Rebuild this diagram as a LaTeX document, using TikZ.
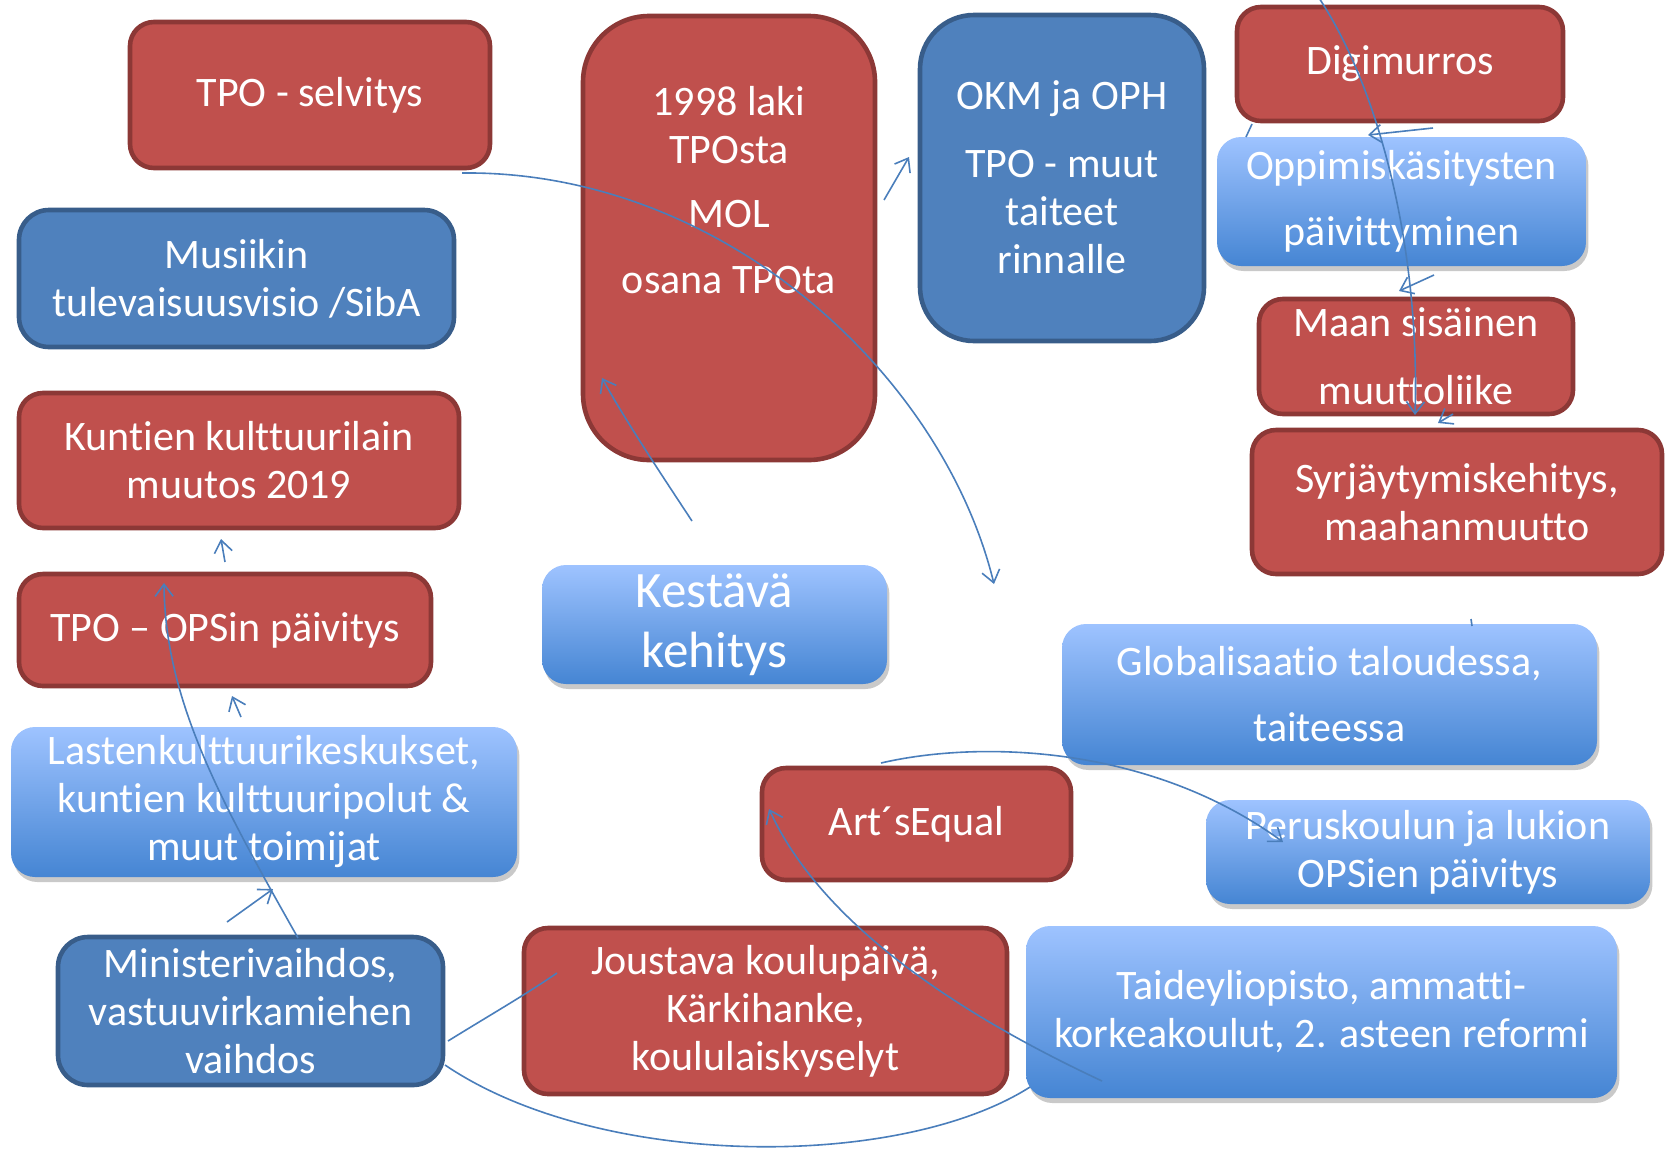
\documentclass[tikz,border=0pt]{standalone}
\usepackage{fontspec}
\setmainfont[Ligatures={NoCommon}]{Carlito}
\usetikzlibrary{arrows.meta,shadows}
\definecolor{redfill}{HTML}{C0504D}
\definecolor{redline}{HTML}{8C3836}
\definecolor{bluefill}{HTML}{4F81BD}
\definecolor{blueline}{HTML}{385D8A}
\definecolor{ltop}{HTML}{9EC3FF}
\definecolor{lbot}{HTML}{4585D3}
\definecolor{conncol}{HTML}{4A7EBB}
\newcommand\mkbox[7]{%
  \pgfmathsetmacro\bw{(#5-#3)*0.5}%
  \pgfmathsetmacro\bh{(#6-#4)*0.5}%
  \node[#1, minimum width=\bw pt, minimum height=\bh pt] (#2) at ({(#3+#5)/2},{(#4+#6)/2}) {#7};}
\tikzset{
  basebox/.style={rectangle, rounded corners=12pt, inner sep=0pt, align=center, text=white, font=\fontsize{21}{24}\selectfont},
  redbox/.style={basebox, fill=redfill, draw=redline, line width=2.3pt},
  dbbox/.style={basebox, fill=bluefill, draw=blueline, line width=2.3pt},
  lbbox/.style={basebox, top color=ltop, bottom color=lbot, drop shadow={shadow xshift=1.2pt, shadow yshift=-2.5pt, opacity=0.3, fill=black!70}},
  txt/.style={align=center, text=white, inner sep=0pt, font=\fontsize{21}{24}\selectfont},
  conn/.style={draw=conncol, line width=0.8pt},
  arr/.style={conn, -{Straight Barb[length=6pt,width=9pt]}}
}
\begin{document}
\begin{tikzpicture}[x=0.5pt,y=-0.5pt]
\useasboundingbox (0,0) rectangle (1669,1152);
% red boxes
\mkbox{redbox}{sel}{130}{22}{490}{168}{TPO - selvitys}
\mkbox{redbox}{kunt}{19}{393}{459}{528}{Kuntien kulttuurilain\\muutos 2019}
\mkbox{redbox}{opsin}{19}{574}{431}{686}{TPO – OPSin päivitys}
\mkbox{redbox,rounded corners=33pt}{laki}{583}{16}{875}{460}{}
\mkbox{redbox}{digi}{1237}{7}{1563}{121}{Digimurros}
\mkbox{redbox}{maan}{1259}{299}{1573}{414}{Maan sisäinen\\[10pt]muuttoliike}
\mkbox{redbox}{syrj}{1252}{430}{1662}{574}{Syrjäytymiskehitys,\\maahanmuutto}
\mkbox{redbox}{arts}{762}{768}{1071}{880}{Art´sEqual}
\mkbox{redbox}{joust}{524}{928}{1007}{1094}{Joustava koulupäivä,\\Kärkihanke,\\koululaiskyselyt}
% dark blue boxes
\mkbox{dbbox,rounded corners=15pt}{musi}{19}{210}{454}{347}{Musiikin\\tulevaisuusvisio /SibA}
\mkbox{dbbox,rounded corners=27pt}{okm}{920}{15}{1204}{341}{}
\mkbox{dbbox,rounded corners=15pt}{mini}{58}{937}{443}{1085}{Ministerivaihdos,\\vastuuvirkamiehen\\vaihdos}
% light blue boxes
\mkbox{lbbox}{last}{11}{727}{517}{877}{Lastenkulttuurikeskukset,\\kuntien kulttuuripolut \&\\muut toimijat}
\mkbox{lbbox,font=\fontsize{25.5}{30}\selectfont}{kest}{542}{565}{887}{684}{Kestävä\\kehitys}
\mkbox{lbbox}{oppi}{1217}{137}{1586}{266}{Oppimiskäsitysten\\[9pt]päivittyminen}
\mkbox{lbbox}{glob}{1062}{624}{1597}{765}{Globalisaatio taloudessa,\\[9pt]taiteessa}
\mkbox{lbbox}{peru}{1206}{800}{1650}{904}{Peruskoulun ja lukion\\OPSien päivitys}
\mkbox{lbbox}{taide}{1026}{926}{1617}{1098}{Taideyliopisto, ammatti-\\korkeakoulut, 2. asteen reformi}
% texts placed off-centre
\node[txt] (lakitxt) at (729,190) {1998 laki\\TPOsta\\[8pt]MOL\\[9pt]osana TPOta};
\node[txt] (okmtxt) at (1062,177) {OKM ja OPH\\[10pt]TPO - muut\\taiteet\\rinnalle};
% connector end points
\coordinate (a0) at (462,173);  \coordinate (a1) at (994,584);
\coordinate (b0) at (692,521);  \coordinate (b1) at (602,378);
\coordinate (c0) at (884,200);  \coordinate (c1) at (909,157);
\coordinate (d0) at (1319,-2);  \coordinate (d1) at (1415,415);
\coordinate (e0) at (1252,124); \coordinate (e1) at (1246,137);
\coordinate (f0) at (1433,128); \coordinate (f1) at (1368,135);
\coordinate (g0) at (1434,275); \coordinate (g1) at (1399,291);
\coordinate (h0) at (1453,414); \coordinate (h1) at (1438,423);
\coordinate (i0) at (1471,619); \coordinate (i1) at (1472,626);
\coordinate (j0) at (225,562);  \coordinate (j1) at (221,539);
\coordinate (k0) at (241,717);  \coordinate (k1) at (232,696);
\coordinate (l0) at (227,922);  \coordinate (l1) at (273,889);
\coordinate (m0) at (298,938);  \coordinate (m1) at (164,583);
\coordinate (n0) at (448,1041); \coordinate (n1) at (557,973);
\coordinate (o0) at (445,1065); \coordinate (o1) at (1030,1087);
\coordinate (p0) at (1102,1081);\coordinate (p1) at (769,809);
\coordinate (q0) at (881,763);  \coordinate (q1) at (1283,842);
% connectors
\draw[arr] (a0) .. controls (720,170) and (942,372) .. (a1);
\draw[arr] (b0) .. controls (665,480) and (625,420) .. (b1);
\draw[arr] (c0) -- (c1);
\draw[arr] (d0) .. controls (1380,90) and (1420,250) .. (d1);
\draw[conn] (e0) -- (e1);
\draw[arr] (f0) -- (f1);
\draw[arr] (g0) -- (g1);
\draw[arr] (h0) -- (h1);
\draw[conn] (i0) -- (i1);
\draw[arr] (j0) -- (j1);
\draw[arr] (k0) -- (k1);
\draw[arr] (l0) -- (l1);
\draw[arr] (m0) .. controls (220,800) and (165,700) .. (m1);
\draw[conn] (n0) .. controls (490,1015) and (525,995) .. (n1);
\draw[conn] (o0) .. controls (600,1170) and (900,1170) .. (o1);
\draw[arr] (p0) .. controls (950,1010) and (820,920) .. (p1);
\draw[arr] (q0) .. controls (980,740) and (1150,745) .. (q1);
\end{tikzpicture}
\end{document}
